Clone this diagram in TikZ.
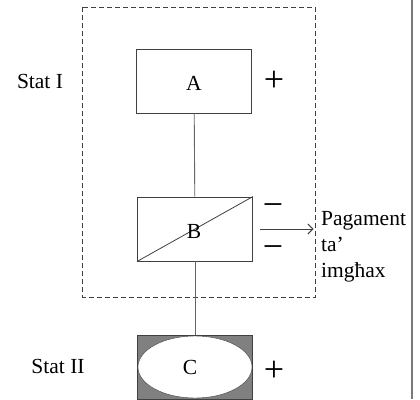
\documentclass[tikz,border=0pt]{standalone}
\usepackage{fontspec}
\setmainfont{Liberation Serif}
\usetikzlibrary{arrows.meta,positioning,shapes.geometric}
\definecolor{lnclr}{RGB}{64,64,64}
\definecolor{boxgray}{RGB}{128,128,128}

\begin{document}
\begin{tikzpicture}[x=1pt,y=-1pt,>={Straight Barb[length=5pt,width=10pt]},
    font=\fontsize{21.5}{26}\selectfont,
    box/.style={draw=lnclr,line width=0.9pt,minimum width=115pt,minimum height=64pt,inner sep=0pt},
    sign/.style={font=\fontsize{36}{36}\selectfont,inner sep=0pt},
    lbl/.style={anchor=base,inner sep=0pt}]
        \useasboundingbox (0,0) rectangle (420,399);
        \draw[lnclr,dash pattern=on 5pt off 3pt,line width=0.8pt] (82.5,7) rectangle (315,297);
        \draw[lnclr!70,line width=1.2pt] (412,0) -- (412,399);
        \node[box] (a) at (194,81) {};
        \node[lbl] at (194,90) {A};
        \node[box] (b) at (195,229) {};
        \draw[lnclr,line width=0.8pt] (b.south west) -- (b.north east);
        \node[lbl] at (194,238) {B};
        \node[box,fill=boxgray,minimum height=64pt] (cbox) at (195,367) {};
        \node[draw=lnclr,fill=white,ellipse,minimum width=114pt,minimum height=62pt,inner sep=0pt] (c) at (195,367) {};
        \node[lbl] at (190,374) {C};
        \draw[lnclr!80,line width=0.9pt] (a) -- (b);
        \draw[lnclr!80,line width=0.9pt] (b) -- (cbox);
        \node[lbl] (stat1) at (40,88) {Stat I};
        \node[lbl] (stat2) at (58,373) {Stat II};
        \node[sign] (pa) at (274,81) {+};
        \node[sign] (pc) at (274,371) {+};
        \node[sign] (m1) at (273,210) {−};
        \node[sign] (m2) at (273,252) {−};
        \coordinate (tip) at (313.5,229);
        \draw[->,lnclr,line width=0.9pt] ([xshift=7pt]b.east) -- (tip);
        \node[anchor=north west,align=left,inner sep=0pt] (pay) at (321,211) {Pagament\\ta’\\imgħax};
      \end{tikzpicture}
\end{document}
